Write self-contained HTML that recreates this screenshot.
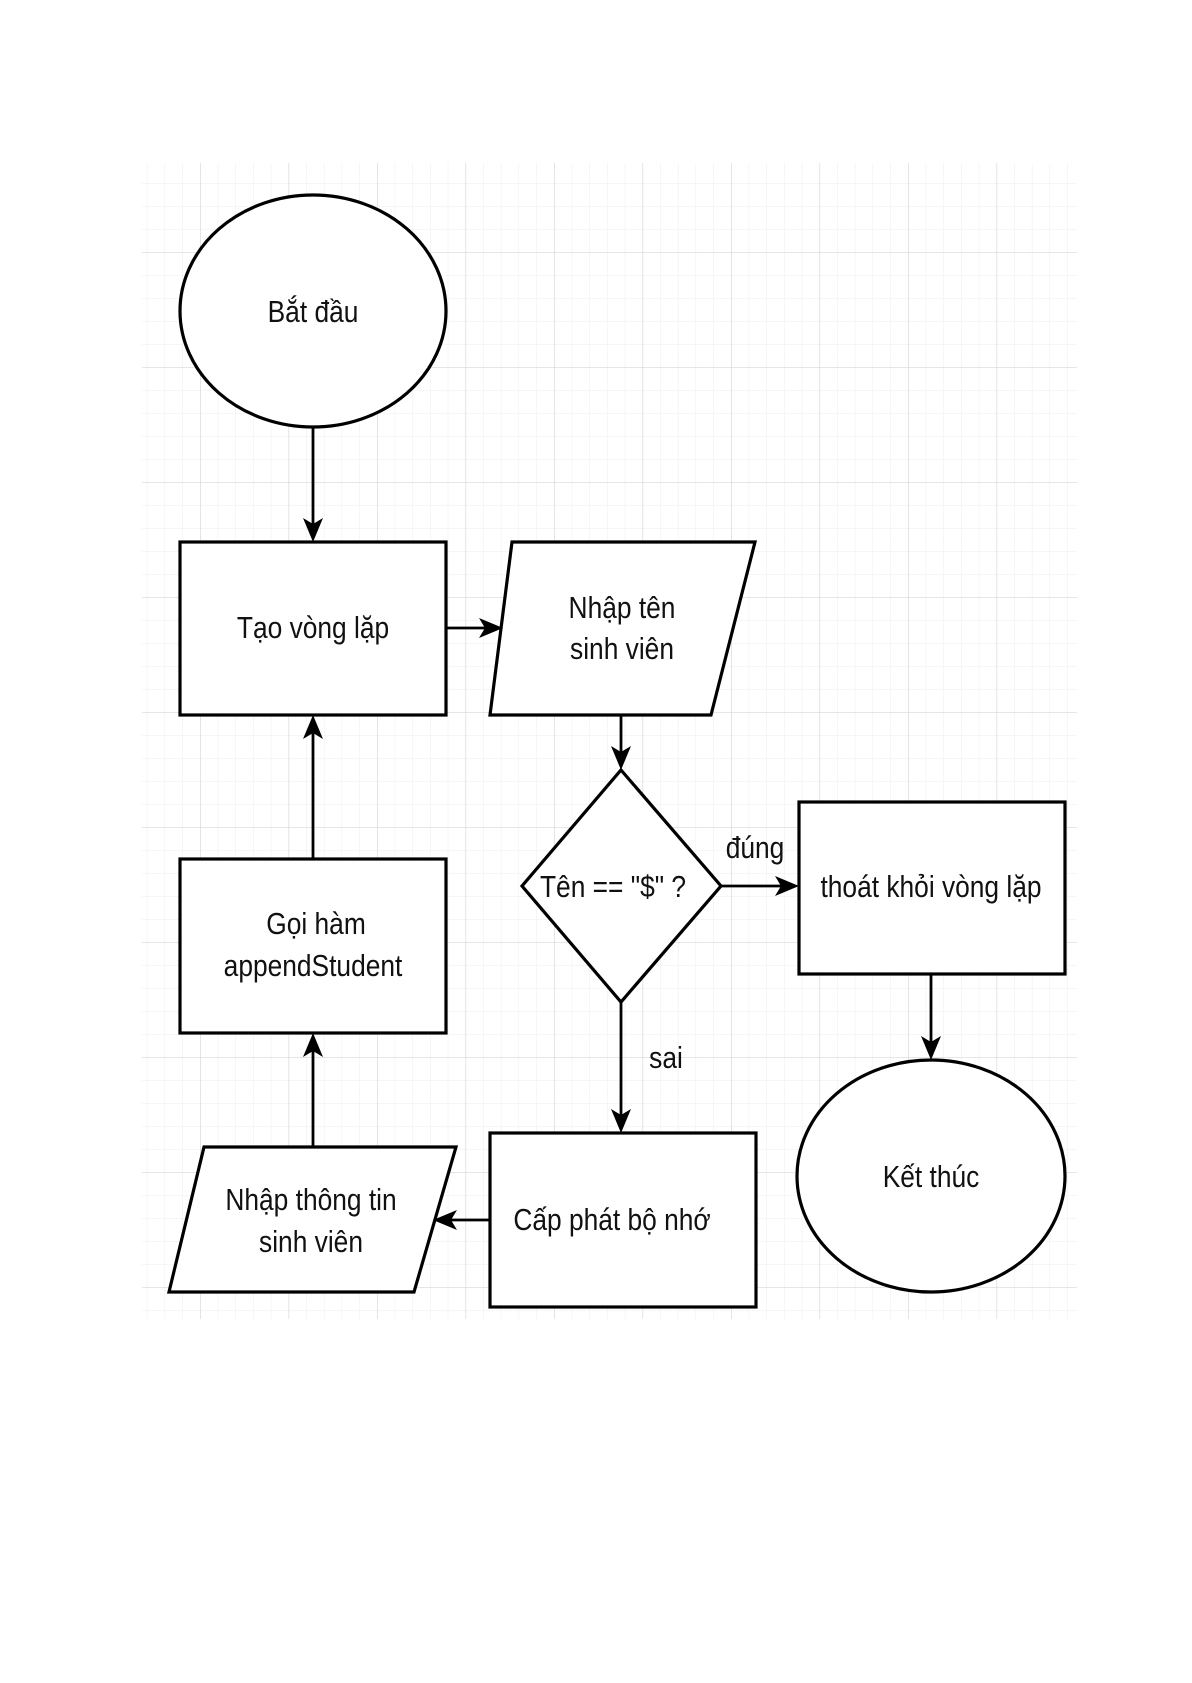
<!DOCTYPE html>
<html><head><meta charset="utf-8"><style>
html,body{margin:0;padding:0;background:#fff;}
svg{display:block;}
text{font-family:"Liberation Sans",Arial,sans-serif;font-size:31px;fill:#111;}
</style></head><body>
<svg width="1192" height="1683" viewBox="0 0 1192 1683" xmlns="http://www.w3.org/2000/svg">
<defs>
<pattern id="minor" x="200" y="252" width="17.7" height="23" patternUnits="userSpaceOnUse">
<path d="M0 0V23M0 0H17.7" stroke="#ececec" stroke-width="1" fill="none"/>
</pattern>
<pattern id="major" x="200" y="252" width="88.5" height="115" patternUnits="userSpaceOnUse">
<path d="M0 0V115M0 0H88.5" stroke="#d6d6d6" stroke-width="1.3" fill="none"/>
</pattern>
</defs>
<rect x="142" y="163" width="935" height="1156" fill="url(#minor)"/>
<rect x="142" y="163" width="935" height="1156" fill="url(#major)"/>

<g stroke="#000" stroke-width="3.2" fill="#fff">
<ellipse cx="313" cy="311" rx="133" ry="116"/>
<rect x="180" y="542" width="266" height="173"/>
<polygon points="512,542 755,542 711,715 490,715"/>
<polygon points="621,770 721,886 621,1002 522,886"/>
<rect x="799" y="802" width="266" height="172"/>
<ellipse cx="931" cy="1176" rx="134" ry="116"/>
<rect x="490" y="1133" width="266" height="174"/>
<polygon points="204,1147 456,1147 414,1292 169,1292"/>
<rect x="180" y="859" width="266" height="174"/>
</g>

<g stroke="#000" stroke-width="2.8" fill="none">
<line x1="313" y1="427" x2="313" y2="530"/>
<line x1="446" y1="628" x2="492" y2="628"/>
<line x1="621" y1="715" x2="621" y2="758"/>
<line x1="721" y1="886" x2="787" y2="886"/>
<line x1="931" y1="974" x2="931" y2="1048"/>
<line x1="621" y1="1002" x2="621" y2="1121"/>
<line x1="490" y1="1220" x2="445" y2="1220"/>
<line x1="313" y1="1147" x2="313" y2="1045"/>
<line x1="313" y1="859" x2="313" y2="727"/>
</g>
<g fill="#000">
<polygon points="313,542 303,518 313,524 323,518"/>
<polygon points="503,628 479,618 485,628 479,638"/>
<polygon points="621,770 611,746 621,752 631,746"/>
<polygon points="799,886 775,876 781,886 775,896"/>
<polygon points="931,1060 921,1036 931,1042 941,1036"/>
<polygon points="621,1133 611,1109 621,1115 631,1109"/>
<polygon points="433,1220 457,1210 451,1220 457,1230"/>
<polygon points="313,1033 303,1057 313,1051 323,1057"/>
<polygon points="313,715 303,739 313,733 323,739"/>
</g>

<g text-anchor="middle">
<g transform="translate(313,322) scale(0.85,1)"><text>Bắt đầu</text></g>
<g transform="translate(313,638) scale(0.85,1)"><text>Tạo vòng lặp</text></g>
<g transform="translate(622,618) scale(0.85,1)"><text>Nhập tên</text></g>
<g transform="translate(622,659) scale(0.85,1)"><text>sinh viên</text></g>
<g transform="translate(613,897) scale(0.85,1)"><text>Tên == "$" ?</text></g>
<g transform="translate(931,897) scale(0.85,1)"><text>thoát khỏi vòng lặp</text></g>
<g transform="translate(931,1187) scale(0.85,1)"><text>Kết thúc</text></g>
<g transform="translate(612,1230) scale(0.85,1)"><text>Cấp phát bộ nhớ</text></g>
<g transform="translate(311,1210) scale(0.85,1)"><text>Nhập thông tin</text></g>
<g transform="translate(311,1252) scale(0.85,1)"><text>sinh viên</text></g>
<g transform="translate(316,934) scale(0.85,1)"><text>Gọi hàm</text></g>
<g transform="translate(313,976) scale(0.85,1)"><text>appendStudent</text></g>
<g transform="translate(755,858) scale(0.85,1)"><text>đúng</text></g>
<g transform="translate(666,1068) scale(0.85,1)"><text>sai</text></g>
</g>
</svg>
</body></html>
